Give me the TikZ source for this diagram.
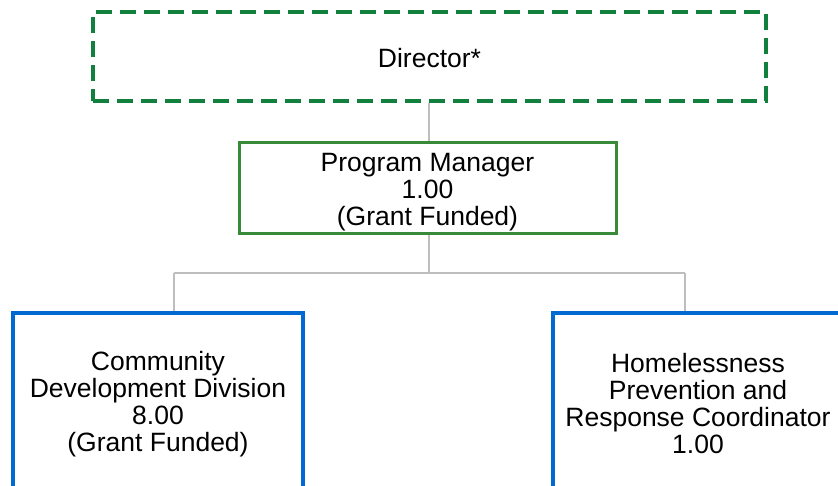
\documentclass[tikz,border=0pt]{standalone}
\usepackage{fontspec}
\setmainfont{Liberation Sans}
\definecolor{dirgreen}{RGB}{16,128,60}
\definecolor{pmgreen}{RGB}{56,138,56}
\definecolor{boxblue}{RGB}{0,106,210}
\definecolor{linegray}{RGB}{190,190,190}
\begin{document}
\begin{tikzpicture}[x=1pt,y=-1pt,
  txt/.style={font=\fontsize{26.5}{27}\selectfont, align=center, inner sep=0pt},
  dirbox/.style={draw=dirgreen, line width=4pt, dash pattern=on 16pt off 8pt, minimum width=673pt, minimum height=89pt, inner sep=0pt},
  pmbox/.style={draw=pmgreen, line width=3pt, minimum width=377pt, minimum height=91pt, inner sep=0pt},
  unitbox/.style={draw=boxblue, line width=3.5pt, minimum width=290pt, minimum height=176pt, inner sep=0pt},
  conn/.style={draw=linegray, line width=2pt}]
\useasboundingbox (0,0) rectangle (838,485);
\clip (0,0) rectangle (838,485);
\node[dirbox, label={[txt, yshift=-1.5pt]center:Director*}] (dir) at (429.5,56.5) {};
\node[pmbox, label={[txt, yshift=-4.5pt]center:Program Manager\\1.00\\(Grant Funded)}] (pm) at (427.5,187.5) {};
\node[unitbox, label={[txt, yshift=-3pt]center:Community\\Development Division\\8.00\\(Grant Funded)}] (cdd) at (158,401) {};
\node[unitbox, label={[txt, yshift=-3pt]center:Homelessness\\Prevention and\\Response Coordinator\\1.00}] (hprc) at (698,401) {};
\coordinate (bar) at (428.5,273);
\coordinate (barL) at (174,273);
\coordinate (barR) at (685,273);
\draw[conn] (dir.south -| bar) -- (pm.north -| bar);
\draw[conn] (pm.south -| bar) -- (bar);
\draw[conn] (barL) -- (barR);
\draw[conn] (barL) -- (cdd.north -| barL);
\draw[conn] (barR) -- (hprc.north -| barR);
\end{tikzpicture}
\end{document}
